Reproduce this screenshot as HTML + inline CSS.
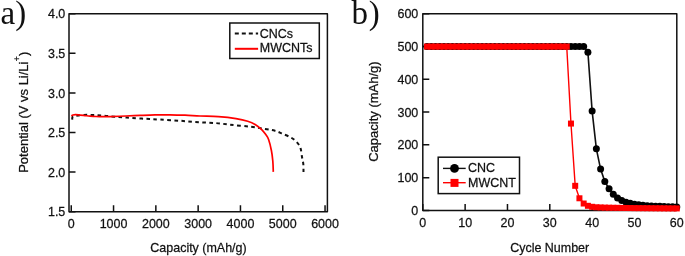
<!DOCTYPE html>
<html><head><meta charset="utf-8"><title>Chart</title>
<style>html,body{margin:0;padding:0;background:#fff;width:685px;height:256px;overflow:hidden;font-family:"Liberation Sans",sans-serif;}svg{display:block;will-change:transform;}</style>
</head><body>
<svg width="685" height="256" viewBox="0 0 685 256">
<rect width="685" height="256" fill="#fff"/>
<text x="0.5" y="24.2" font-family="Liberation Serif, serif" font-size="33" fill="#111">a)</text>
<text x="351.5" y="24.2" font-family="Liberation Serif, serif" font-size="33" fill="#111">b<tspan dx="0.8">)</tspan></text>
<rect x="69" y="13.7" width="258.4" height="198" stroke="#111" stroke-width="1.5" fill="none" stroke-linejoin="round"/>
<path d="M69 211.7h6.5 M69 172.1h6.5 M69 132.5h6.5 M69 92.9h6.5 M69 53.3h6.5 M69 13.7h6.5 M71.25 211.7v-6.5 M113.55 211.7v-6.5 M155.85 211.7v-6.5 M198.15 211.7v-6.5 M240.45 211.7v-6.5 M282.75 211.7v-6.5 M325.05 211.7v-6.5" stroke="#111" stroke-width="1.5" fill="none" stroke-linejoin="round"/>
<text transform="translate(65.3 216.3) scale(0.96 1)" text-anchor="end" font-family="Liberation Sans, sans-serif" font-size="13" fill="#111" stroke="#111" stroke-width="0.25" >1.5</text>
<text transform="translate(65.3 176.7) scale(0.96 1)" text-anchor="end" font-family="Liberation Sans, sans-serif" font-size="13" fill="#111" stroke="#111" stroke-width="0.25" >2.0</text>
<text transform="translate(65.3 137.1) scale(0.96 1)" text-anchor="end" font-family="Liberation Sans, sans-serif" font-size="13" fill="#111" stroke="#111" stroke-width="0.25" >2.5</text>
<text transform="translate(65.3 97.5) scale(0.96 1)" text-anchor="end" font-family="Liberation Sans, sans-serif" font-size="13" fill="#111" stroke="#111" stroke-width="0.25" >3.0</text>
<text transform="translate(65.3 57.9) scale(0.96 1)" text-anchor="end" font-family="Liberation Sans, sans-serif" font-size="13" fill="#111" stroke="#111" stroke-width="0.25" >3.5</text>
<text transform="translate(65.3 18.3) scale(0.96 1)" text-anchor="end" font-family="Liberation Sans, sans-serif" font-size="13" fill="#111" stroke="#111" stroke-width="0.25" >4.0</text>
<text transform="translate(71.25 227.5) scale(0.96 1)" text-anchor="middle" font-family="Liberation Sans, sans-serif" font-size="13" fill="#111" stroke="#111" stroke-width="0.25" >0</text>
<text transform="translate(113.55 227.5) scale(0.96 1)" text-anchor="middle" font-family="Liberation Sans, sans-serif" font-size="13" fill="#111" stroke="#111" stroke-width="0.25" >1000</text>
<text transform="translate(155.85 227.5) scale(0.96 1)" text-anchor="middle" font-family="Liberation Sans, sans-serif" font-size="13" fill="#111" stroke="#111" stroke-width="0.25" >2000</text>
<text transform="translate(198.15 227.5) scale(0.96 1)" text-anchor="middle" font-family="Liberation Sans, sans-serif" font-size="13" fill="#111" stroke="#111" stroke-width="0.25" >3000</text>
<text transform="translate(240.45 227.5) scale(0.96 1)" text-anchor="middle" font-family="Liberation Sans, sans-serif" font-size="13" fill="#111" stroke="#111" stroke-width="0.25" >4000</text>
<text transform="translate(282.75 227.5) scale(0.96 1)" text-anchor="middle" font-family="Liberation Sans, sans-serif" font-size="13" fill="#111" stroke="#111" stroke-width="0.25" >5000</text>
<text transform="translate(325.05 227.5) scale(0.96 1)" text-anchor="middle" font-family="Liberation Sans, sans-serif" font-size="13" fill="#111" stroke="#111" stroke-width="0.25" >6000</text>
<text transform="translate(198.5 252) scale(0.96 1)" text-anchor="middle" font-family="Liberation Sans, sans-serif" font-size="13" fill="#111" stroke="#111" stroke-width="0.25" >Capacity (mAh/g)</text>
<text transform="translate(27.7 172.8) rotate(-90)" font-family="Liberation Sans, sans-serif" font-size="13" fill="#111" stroke="#111" stroke-width="0.25">Potential (V vs Li/Li<tspan dy="-7.3" dx="0.3" font-size="8.5">+</tspan><tspan dy="7.3" dx="0.3">)</tspan></text>
<path d="M72.2 119.6 C72.25 119.17 72.12 117.6 72.5 117 C72.88 116.4 73.58 116.23 74.5 116 C75.42 115.77 76.42 115.78 78 115.6 C79.58 115.42 81.83 115.02 84 114.9 C86.17 114.78 88.83 114.85 91 114.9 C93.17 114.95 94.83 115.07 97 115.2 C99.17 115.33 101.67 115.5 104 115.7 C106.33 115.9 108.58 116.17 111 116.4 C113.42 116.63 116.17 116.92 118.5 117.1 C120.83 117.28 122.75 117.37 125 117.5 C127.25 117.63 128.55 117.68 132 117.9 C135.45 118.12 140.98 118.52 145.7 118.8 C150.42 119.08 154.47 119.27 160.3 119.6 C166.13 119.93 174.92 120.4 180.7 120.8 C186.48 121.2 189.12 121.62 195 122 C200.88 122.38 210.17 122.65 216 123.1 C221.83 123.55 224.33 124.1 230 124.7 C235.67 125.3 244.17 126 250 126.7 C255.83 127.4 260.83 128.22 265 128.9 C269.17 129.58 272.22 130.05 275 130.8 C277.78 131.55 279.02 132.27 281.7 133.4 C284.38 134.53 288.55 136.12 291.1 137.6 C293.65 139.08 295.43 140.55 297 142.3 C298.57 144.05 299.65 145.57 300.5 148.1 C301.35 150.63 301.63 154.85 302.1 157.5 C302.57 160.15 303.07 161.6 303.3 164 C303.53 166.4 303.47 170.58 303.5 171.9" stroke="#111" stroke-width="2" fill="none" stroke-dasharray="3.6 3.4"/>
<path d="M71.4 115.9 C71.67 115.75 72.32 115.2 73 115 C73.68 114.8 74.33 114.68 75.5 114.7 C76.67 114.72 78.42 114.95 80 115.1 C81.58 115.25 83.33 115.43 85 115.6 C86.67 115.77 88.17 115.95 90 116.1 C91.83 116.25 93.83 116.4 96 116.5 C98.17 116.6 100.67 116.68 103 116.7 C105.33 116.72 106.17 116.72 110 116.6 C113.83 116.48 121 116.2 126 116 C131 115.8 135.17 115.58 140 115.4 C144.83 115.22 150 115 155 114.9 C160 114.8 165 114.75 170 114.8 C175 114.85 180 115 185 115.2 C190 115.4 194.43 115.75 200 116 C205.57 116.25 212.4 116.27 218.4 116.7 C224.4 117.13 231.12 117.85 236 118.6 C240.88 119.35 244.38 120.15 247.7 121.2 C251.02 122.25 253.57 123.5 255.9 124.9 C258.23 126.3 260.05 127.98 261.7 129.6 C263.35 131.22 264.65 132.95 265.8 134.6 C266.95 136.25 267.67 136.85 268.6 139.5 C269.53 142.15 270.7 146.92 271.4 150.5 C272.1 154.08 272.48 157.43 272.8 161 C273.12 164.57 273.22 170.08 273.3 171.9" stroke="#f00" stroke-width="1.7" fill="none"/>
<rect x="229.8" y="23" width="89.5" height="35.5" stroke="#111" stroke-width="1.5" fill="#fff"/>
<path d="M234.8 33.6h23.3" stroke="#111" stroke-width="2" stroke-dasharray="4 3"/>
<path d="M234.8 48.8h23.3" stroke="#f00" stroke-width="2"/>
<text transform="translate(259.8 37.8) scale(0.96 1)" font-family="Liberation Sans, sans-serif" font-size="13" fill="#111" stroke="#111" stroke-width="0.25" >CNCs</text>
<text transform="translate(259.8 52.4) scale(0.96 1)" font-family="Liberation Sans, sans-serif" font-size="13" fill="#111" stroke="#111" stroke-width="0.25" >MWCNTs</text>
<rect x="422.8" y="13.8" width="254" height="196.6" stroke="#111" stroke-width="1.5" fill="none" stroke-linejoin="round"/>
<path d="M422.8 210.4h6.5 M422.8 210.4v-6.5 M422.8 177.63h6.5 M465.13 210.4v-6.5 M422.8 144.87h6.5 M507.47 210.4v-6.5 M422.8 112.1h6.5 M549.8 210.4v-6.5 M422.8 79.33h6.5 M592.13 210.4v-6.5 M422.8 46.57h6.5 M634.47 210.4v-6.5 M422.8 13.8h6.5 M676.8 210.4v-6.5" stroke="#111" stroke-width="1.5" fill="none" stroke-linejoin="round"/>
<text transform="translate(418.3 215) scale(0.96 1)" text-anchor="end" font-family="Liberation Sans, sans-serif" font-size="13" fill="#111" stroke="#111" stroke-width="0.25" >0</text>
<text transform="translate(422.8 226.5) scale(0.96 1)" text-anchor="middle" font-family="Liberation Sans, sans-serif" font-size="13" fill="#111" stroke="#111" stroke-width="0.25" >0</text>
<text transform="translate(418.3 182.23) scale(0.96 1)" text-anchor="end" font-family="Liberation Sans, sans-serif" font-size="13" fill="#111" stroke="#111" stroke-width="0.25" >100</text>
<text transform="translate(465.13 226.5) scale(0.96 1)" text-anchor="middle" font-family="Liberation Sans, sans-serif" font-size="13" fill="#111" stroke="#111" stroke-width="0.25" >10</text>
<text transform="translate(418.3 149.47) scale(0.96 1)" text-anchor="end" font-family="Liberation Sans, sans-serif" font-size="13" fill="#111" stroke="#111" stroke-width="0.25" >200</text>
<text transform="translate(507.47 226.5) scale(0.96 1)" text-anchor="middle" font-family="Liberation Sans, sans-serif" font-size="13" fill="#111" stroke="#111" stroke-width="0.25" >20</text>
<text transform="translate(418.3 116.7) scale(0.96 1)" text-anchor="end" font-family="Liberation Sans, sans-serif" font-size="13" fill="#111" stroke="#111" stroke-width="0.25" >300</text>
<text transform="translate(549.8 226.5) scale(0.96 1)" text-anchor="middle" font-family="Liberation Sans, sans-serif" font-size="13" fill="#111" stroke="#111" stroke-width="0.25" >30</text>
<text transform="translate(418.3 83.93) scale(0.96 1)" text-anchor="end" font-family="Liberation Sans, sans-serif" font-size="13" fill="#111" stroke="#111" stroke-width="0.25" >400</text>
<text transform="translate(592.13 226.5) scale(0.96 1)" text-anchor="middle" font-family="Liberation Sans, sans-serif" font-size="13" fill="#111" stroke="#111" stroke-width="0.25" >40</text>
<text transform="translate(418.3 51.17) scale(0.96 1)" text-anchor="end" font-family="Liberation Sans, sans-serif" font-size="13" fill="#111" stroke="#111" stroke-width="0.25" >500</text>
<text transform="translate(634.47 226.5) scale(0.96 1)" text-anchor="middle" font-family="Liberation Sans, sans-serif" font-size="13" fill="#111" stroke="#111" stroke-width="0.25" >50</text>
<text transform="translate(418.3 18.4) scale(0.96 1)" text-anchor="end" font-family="Liberation Sans, sans-serif" font-size="13" fill="#111" stroke="#111" stroke-width="0.25" >600</text>
<text transform="translate(676.8 226.5) scale(0.96 1)" text-anchor="middle" font-family="Liberation Sans, sans-serif" font-size="13" fill="#111" stroke="#111" stroke-width="0.25" >60</text>
<text transform="translate(549.7 252) scale(0.96 1)" text-anchor="middle" font-family="Liberation Sans, sans-serif" font-size="13" fill="#111" stroke="#111" stroke-width="0.25" >Cycle Number</text>
<text transform="translate(377.8 161.8) rotate(-90)" font-family="Liberation Sans, sans-serif" font-size="13" fill="#111" stroke="#111" stroke-width="0.25">Capacity (mAh/g)</text>
<polyline points="427.03,46.57 431.27,46.57 435.5,46.57 439.73,46.57 443.97,46.57 448.2,46.57 452.43,46.57 456.67,46.57 460.9,46.57 465.13,46.57 469.37,46.57 473.6,46.57 477.83,46.57 482.07,46.57 486.3,46.57 490.53,46.57 494.77,46.57 499,46.57 503.23,46.57 507.47,46.57 511.7,46.57 515.93,46.57 520.17,46.57 524.4,46.57 528.63,46.57 532.87,46.57 537.1,46.57 541.33,46.57 545.57,46.57 549.8,46.57 554.03,46.57 558.27,46.57 562.5,46.57 566.73,46.57 570.97,46.57 575.2,46.57 579.43,46.57 583.67,46.57 587.9,52.14 592.13,111.12 596.37,148.8 600.6,169.11 604.83,181.57 609.07,188.77 613.3,194.34 617.53,197.95 621.77,200.57 626,202.21 630.23,203.36 634.47,204.17 638.7,204.83 642.93,205.32 647.17,205.65 651.4,205.98 655.63,206.14 659.87,206.3 664.1,206.47 668.33,206.63 672.57,206.8 676.8,206.96" stroke="#111" stroke-width="1.6" fill="none"/>
<g fill="#000"><circle cx="427.03" cy="46.57" r="3.5"/><circle cx="431.27" cy="46.57" r="3.5"/><circle cx="435.5" cy="46.57" r="3.5"/><circle cx="439.73" cy="46.57" r="3.5"/><circle cx="443.97" cy="46.57" r="3.5"/><circle cx="448.2" cy="46.57" r="3.5"/><circle cx="452.43" cy="46.57" r="3.5"/><circle cx="456.67" cy="46.57" r="3.5"/><circle cx="460.9" cy="46.57" r="3.5"/><circle cx="465.13" cy="46.57" r="3.5"/><circle cx="469.37" cy="46.57" r="3.5"/><circle cx="473.6" cy="46.57" r="3.5"/><circle cx="477.83" cy="46.57" r="3.5"/><circle cx="482.07" cy="46.57" r="3.5"/><circle cx="486.3" cy="46.57" r="3.5"/><circle cx="490.53" cy="46.57" r="3.5"/><circle cx="494.77" cy="46.57" r="3.5"/><circle cx="499" cy="46.57" r="3.5"/><circle cx="503.23" cy="46.57" r="3.5"/><circle cx="507.47" cy="46.57" r="3.5"/><circle cx="511.7" cy="46.57" r="3.5"/><circle cx="515.93" cy="46.57" r="3.5"/><circle cx="520.17" cy="46.57" r="3.5"/><circle cx="524.4" cy="46.57" r="3.5"/><circle cx="528.63" cy="46.57" r="3.5"/><circle cx="532.87" cy="46.57" r="3.5"/><circle cx="537.1" cy="46.57" r="3.5"/><circle cx="541.33" cy="46.57" r="3.5"/><circle cx="545.57" cy="46.57" r="3.5"/><circle cx="549.8" cy="46.57" r="3.5"/><circle cx="554.03" cy="46.57" r="3.5"/><circle cx="558.27" cy="46.57" r="3.5"/><circle cx="562.5" cy="46.57" r="3.5"/><circle cx="566.73" cy="46.57" r="3.5"/><circle cx="570.97" cy="46.57" r="3.5"/><circle cx="575.2" cy="46.57" r="3.5"/><circle cx="579.43" cy="46.57" r="3.5"/><circle cx="583.67" cy="46.57" r="3.5"/><circle cx="587.9" cy="52.14" r="3.5"/><circle cx="592.13" cy="111.12" r="3.5"/><circle cx="596.37" cy="148.8" r="3.5"/><circle cx="600.6" cy="169.11" r="3.5"/><circle cx="604.83" cy="181.57" r="3.5"/><circle cx="609.07" cy="188.77" r="3.5"/><circle cx="613.3" cy="194.34" r="3.5"/><circle cx="617.53" cy="197.95" r="3.5"/><circle cx="621.77" cy="200.57" r="3.5"/><circle cx="626" cy="202.21" r="3.5"/><circle cx="630.23" cy="203.36" r="3.5"/><circle cx="634.47" cy="204.17" r="3.5"/><circle cx="638.7" cy="204.83" r="3.5"/><circle cx="642.93" cy="205.32" r="3.5"/><circle cx="647.17" cy="205.65" r="3.5"/><circle cx="651.4" cy="205.98" r="3.5"/><circle cx="655.63" cy="206.14" r="3.5"/><circle cx="659.87" cy="206.3" r="3.5"/><circle cx="664.1" cy="206.47" r="3.5"/><circle cx="668.33" cy="206.63" r="3.5"/><circle cx="672.57" cy="206.8" r="3.5"/><circle cx="676.8" cy="206.96" r="3.5"/></g>
<polyline points="427.03,46.57 431.27,46.57 435.5,46.57 439.73,46.57 443.97,46.57 448.2,46.57 452.43,46.57 456.67,46.57 460.9,46.57 465.13,46.57 469.37,46.57 473.6,46.57 477.83,46.57 482.07,46.57 486.3,46.57 490.53,46.57 494.77,46.57 499,46.57 503.23,46.57 507.47,46.57 511.7,46.57 515.93,46.57 520.17,46.57 524.4,46.57 528.63,46.57 532.87,46.57 537.1,46.57 541.33,46.57 545.57,46.57 549.8,46.57 554.03,46.57 558.27,46.57 562.5,46.57 566.73,46.57 570.97,123.57 575.2,185.83 579.43,198.28 583.67,203.52 587.9,205.81 592.13,206.8 596.37,207.29 600.6,207.45 604.83,207.61 609.07,207.71 613.3,207.78 617.53,207.84 621.77,207.91 626,207.98 630.23,208.04 634.47,208.11 638.7,208.14 642.93,208.17 647.17,208.2 651.4,208.24 655.63,208.27 659.87,208.3 664.1,208.34 668.33,208.37 672.57,208.4 676.8,208.43" stroke="#f00" stroke-width="1.4" fill="none"/>
<g fill="#f00"><rect x="424.03" y="43.57" width="6" height="6"/><rect x="428.27" y="43.57" width="6" height="6"/><rect x="432.5" y="43.57" width="6" height="6"/><rect x="436.73" y="43.57" width="6" height="6"/><rect x="440.97" y="43.57" width="6" height="6"/><rect x="445.2" y="43.57" width="6" height="6"/><rect x="449.43" y="43.57" width="6" height="6"/><rect x="453.67" y="43.57" width="6" height="6"/><rect x="457.9" y="43.57" width="6" height="6"/><rect x="462.13" y="43.57" width="6" height="6"/><rect x="466.37" y="43.57" width="6" height="6"/><rect x="470.6" y="43.57" width="6" height="6"/><rect x="474.83" y="43.57" width="6" height="6"/><rect x="479.07" y="43.57" width="6" height="6"/><rect x="483.3" y="43.57" width="6" height="6"/><rect x="487.53" y="43.57" width="6" height="6"/><rect x="491.77" y="43.57" width="6" height="6"/><rect x="496" y="43.57" width="6" height="6"/><rect x="500.23" y="43.57" width="6" height="6"/><rect x="504.47" y="43.57" width="6" height="6"/><rect x="508.7" y="43.57" width="6" height="6"/><rect x="512.93" y="43.57" width="6" height="6"/><rect x="517.17" y="43.57" width="6" height="6"/><rect x="521.4" y="43.57" width="6" height="6"/><rect x="525.63" y="43.57" width="6" height="6"/><rect x="529.87" y="43.57" width="6" height="6"/><rect x="534.1" y="43.57" width="6" height="6"/><rect x="538.33" y="43.57" width="6" height="6"/><rect x="542.57" y="43.57" width="6" height="6"/><rect x="546.8" y="43.57" width="6" height="6"/><rect x="551.03" y="43.57" width="6" height="6"/><rect x="555.27" y="43.57" width="6" height="6"/><rect x="559.5" y="43.57" width="6" height="6"/><rect x="563.73" y="43.57" width="6" height="6"/><rect x="567.97" y="120.57" width="6" height="6"/><rect x="572.2" y="182.83" width="6" height="6"/><rect x="576.43" y="195.28" width="6" height="6"/><rect x="580.67" y="200.52" width="6" height="6"/><rect x="584.9" y="202.81" width="6" height="6"/><rect x="589.13" y="203.8" width="6" height="6"/><rect x="593.37" y="204.29" width="6" height="6"/><rect x="597.6" y="204.45" width="6" height="6"/><rect x="601.83" y="204.61" width="6" height="6"/><rect x="606.07" y="204.71" width="6" height="6"/><rect x="610.3" y="204.78" width="6" height="6"/><rect x="614.53" y="204.84" width="6" height="6"/><rect x="618.77" y="204.91" width="6" height="6"/><rect x="623" y="204.98" width="6" height="6"/><rect x="627.23" y="205.04" width="6" height="6"/><rect x="631.47" y="205.11" width="6" height="6"/><rect x="635.7" y="205.14" width="6" height="6"/><rect x="639.93" y="205.17" width="6" height="6"/><rect x="644.17" y="205.2" width="6" height="6"/><rect x="648.4" y="205.24" width="6" height="6"/><rect x="652.63" y="205.27" width="6" height="6"/><rect x="656.87" y="205.3" width="6" height="6"/><rect x="661.1" y="205.34" width="6" height="6"/><rect x="665.33" y="205.37" width="6" height="6"/><rect x="669.57" y="205.4" width="6" height="6"/><rect x="673.8" y="205.43" width="6" height="6"/></g>
<rect x="438.2" y="157.2" width="81.3" height="36.4" stroke="#111" stroke-width="1.5" fill="#fff"/>
<path d="M443 168.4h22.7" stroke="#111" stroke-width="1.4"/>
<circle cx="454.5" cy="168.4" r="4.4"/>
<path d="M443 182.7h22.7" stroke="#f00" stroke-width="1.4"/>
<rect x="450.5" y="178.9" width="8" height="8" fill="#f00"/>
<text transform="translate(468 171.9) scale(0.96 1)" font-family="Liberation Sans, sans-serif" font-size="13" fill="#111" stroke="#111" stroke-width="0.25" >CNC</text>
<text transform="translate(468 187.1) scale(0.96 1)" font-family="Liberation Sans, sans-serif" font-size="13" fill="#111" stroke="#111" stroke-width="0.25" >MWCNT</text>
</svg>
</body></html>
